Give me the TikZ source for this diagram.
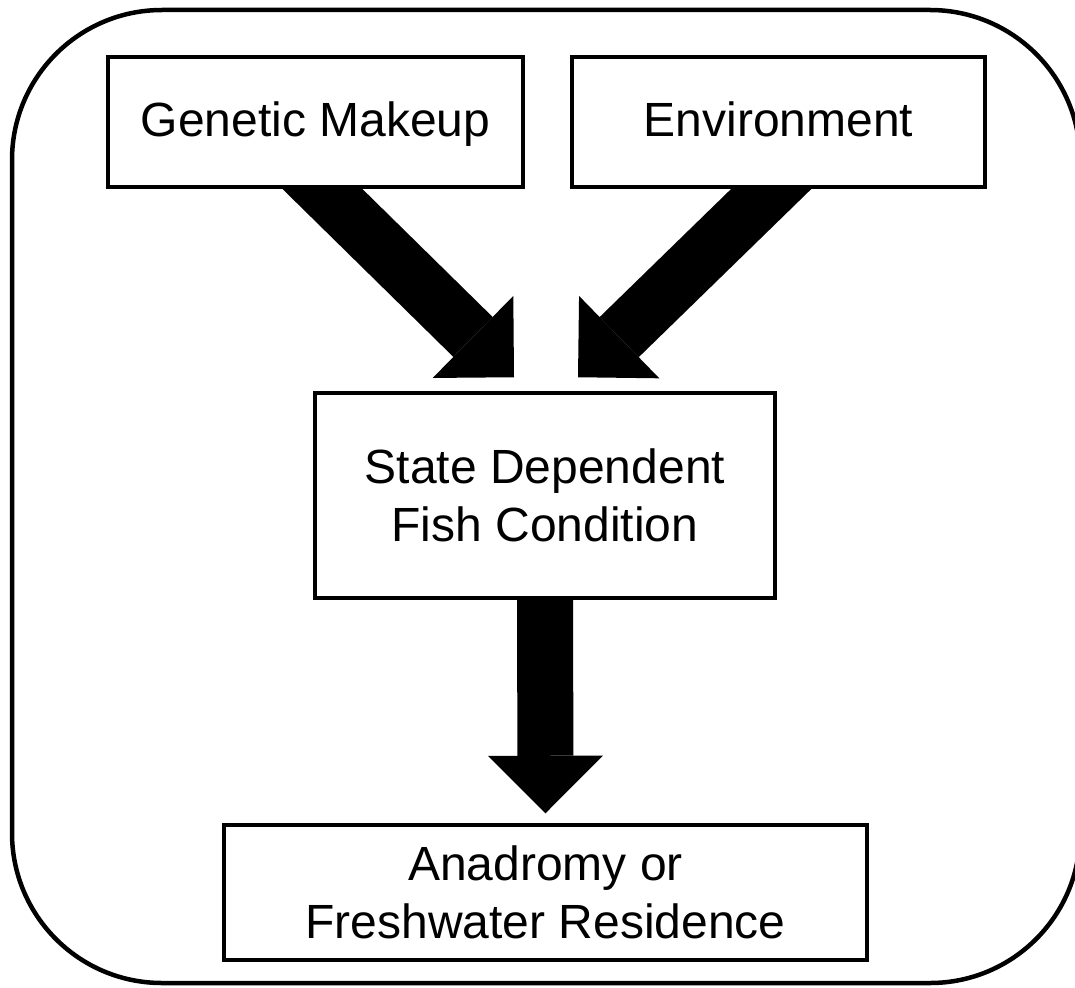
\documentclass[tikz,border=0pt]{standalone}
\usepackage{fontspec}
\setmainfont{Liberation Sans}
\usetikzlibrary{arrows.meta,calc,backgrounds}
\tikzset{
    box/.style={draw, line width=3.5pt, fill=white, align=center, inner sep=0pt, font=\fontsize{48}{58}\selectfont},
    onebox/.style={box, text height=30pt, text depth=0pt},
    fatarrow/.style={line width=56pt, -{Triangle[length=57.5pt,width=115pt,line width=0pt]}}}

\begin{document}
\begin{tikzpicture}[x=1pt,y=-1pt]
\useasboundingbox (0,0) rectangle (1075,987);
\draw[line width=4.5pt, rounded corners=150pt] (12,10) rectangle (1080,983);

\node[onebox, minimum width=415pt, minimum height=130pt] (gen) at (315.5,122) {Genetic Makeup};
\node[onebox, minimum width=413pt, minimum height=130pt] (env) at (778.5,122) {Environment};
\node[box, minimum width=460pt, minimum height=205pt] (state) at (545,495.5) {State Dependent\\Fish Condition};
\node[box, minimum width=643pt, minimum height=135pt] (res) at (545.5,892.5) {Anadromy or\\Freshwater Residence};

\begin{scope}[on background layer]
\draw[fatarrow] ($(gen.south)+(-34,-40)$) -- ($(state.north)+(-31,-14)$);
\draw[fatarrow] ($(env.south)+(34,-40)$) -- ($(state.north)+(33,-14)$);
\draw[fatarrow] ($(state.south)+(0,-20)$) -- ($(res.north)+(0,-10)$);
\end{scope}
\end{tikzpicture}
\end{document}
